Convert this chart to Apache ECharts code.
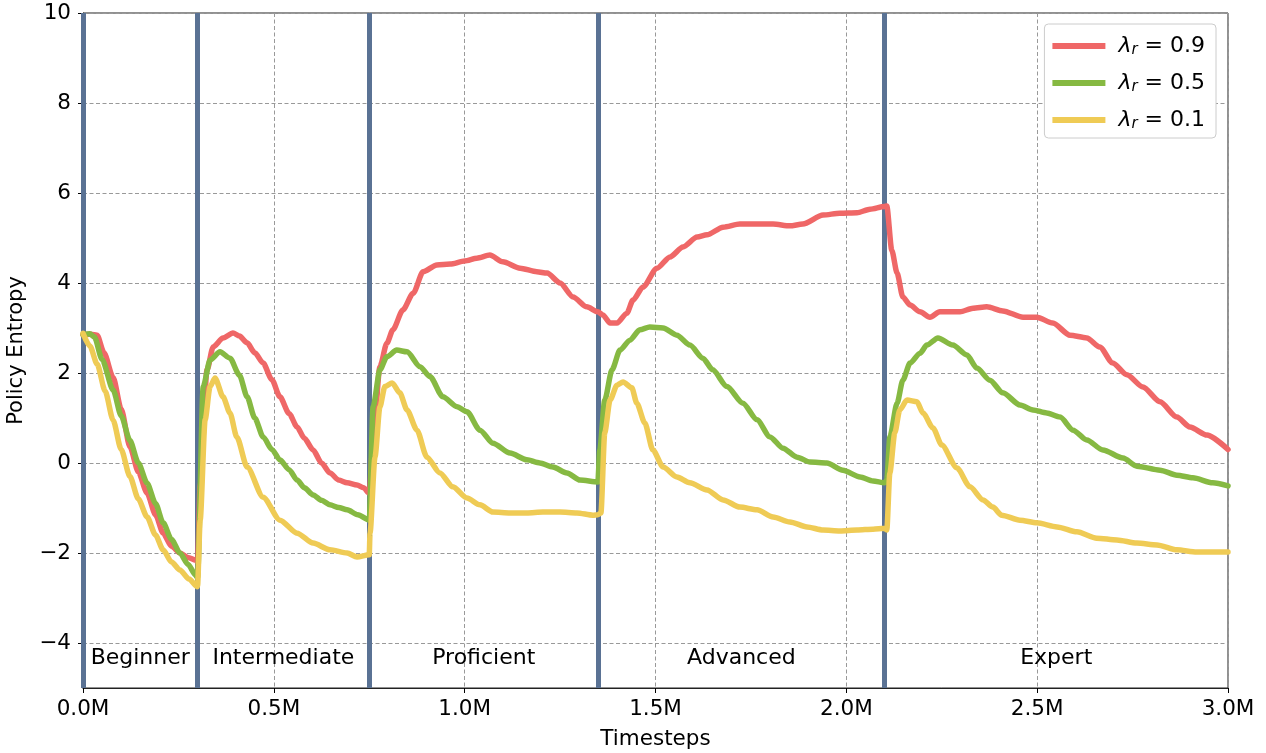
<!DOCTYPE html>
<html>
<head>
<meta charset="utf-8">
<script src="https://cdn.jsdelivr.net/npm/echarts@6/dist/echarts.min.js"></script>
<style>html,body{margin:0;padding:0;background:#fff;}#chart{width:1266px;height:753px;}</style>
</head>
<body>
<div id="chart"></div>
<script>
// ---- data (x in millions of timesteps) ----
const seriesNames = ['λr = 0.9', 'λr = 0.5', 'λr = 0.1'];
const seriesLabels = ['0.9', '0.5', '0.1'];
const seriesColors = ['#ef6767', '#86b942', '#efcb55'];

const redPoints = [
  [0,2.85],[0.02,2.86],[0.037,2.84],[0.055,2.45],[0.079,1.9],[0.1,1.2],[0.123,0.36],[0.145,-0.2],[0.168,-0.67],[0.19,-1.15],[0.21,-1.56],[0.232,-1.85],[0.254,-2.0],[0.275,-2.1],[0.295,-2.16],[0.3,-2.2],
  [0.307,-0.5],[0.325,2.07],[0.341,2.58],[0.367,2.78],[0.393,2.89],[0.41,2.82],[0.43,2.67],[0.45,2.45],[0.472,2.22],[0.495,1.85],[0.516,1.47],[0.54,1.1],[0.561,0.8],[0.58,0.55],[0.603,0.29],[0.625,0.0],[0.647,-0.22],[0.67,-0.38],[0.692,-0.44],[0.718,-0.49],[0.735,-0.55],[0.75,-0.67],
  [0.76,0.51],[0.778,2.14],[0.796,2.66],[0.812,2.96],[0.838,3.4],[0.865,3.77],[0.891,4.25],[0.927,4.4],[0.962,4.42],[1.0,4.49],[1.032,4.55],[1.066,4.62],[1.1,4.47],[1.145,4.33],[1.189,4.25],[1.216,4.22],[1.25,4.0],[1.284,3.69],[1.32,3.47],[1.349,3.36],
  [1.362,3.29],[1.381,3.11],[1.399,3.11],[1.425,3.33],[1.441,3.62],[1.467,3.91],[1.504,4.33],[1.538,4.58],[1.572,4.8],[1.609,5.02],[1.635,5.07],[1.677,5.24],[1.721,5.31],[1.766,5.31],[1.808,5.31],[1.852,5.27],[1.886,5.31],[1.939,5.51],[1.983,5.55],[2.028,5.56],[2.062,5.64],[2.1,5.7],
  [2.106,5.71],[2.119,4.73],[2.133,4.22],[2.148,3.69],[2.167,3.51],[2.193,3.36],[2.219,3.24],[2.245,3.36],[2.298,3.36],[2.332,3.44],[2.368,3.47],[2.41,3.38],[2.463,3.24],[2.499,3.24],[2.541,3.11],[2.586,2.84],[2.63,2.78],[2.664,2.58],[2.698,2.22],[2.735,1.96],[2.777,1.69],[2.822,1.36],[2.866,1.02],[2.9,0.8],[2.945,0.62],[3.0,0.3]
];
const greenPoints = [
  [0,2.85],[0.018,2.87],[0.03,2.8],[0.05,2.3],[0.079,1.62],[0.1,1.05],[0.123,0.5],[0.145,0.0],[0.168,-0.45],[0.19,-0.9],[0.21,-1.33],[0.232,-1.7],[0.254,-2.0],[0.275,-2.25],[0.295,-2.49],[0.3,-2.55],
  [0.315,1.7],[0.333,2.29],[0.359,2.47],[0.385,2.33],[0.41,1.95],[0.43,1.47],[0.45,1.0],[0.472,0.58],[0.495,0.3],[0.516,0.07],[0.54,-0.15],[0.561,-0.38],[0.58,-0.55],[0.603,-0.71],[0.625,-0.83],[0.647,-0.93],[0.67,-0.99],[0.692,-1.04],[0.72,-1.15],[0.75,-1.27],
  [0.76,1.25],[0.778,2.07],[0.796,2.36],[0.822,2.51],[0.849,2.47],[0.883,2.14],[0.909,1.92],[0.943,1.47],[0.98,1.25],[1.006,1.14],[1.04,0.73],[1.074,0.44],[1.119,0.22],[1.163,0.07],[1.197,0.0],[1.231,-0.09],[1.268,-0.22],[1.302,-0.38],[1.349,-0.42],
  [1.354,0.29],[1.367,1.4],[1.386,2.07],[1.407,2.51],[1.433,2.73],[1.459,2.96],[1.485,3.02],[1.52,3.0],[1.556,2.84],[1.59,2.62],[1.624,2.33],[1.65,2.07],[1.687,1.7],[1.729,1.33],[1.766,0.96],[1.8,0.58],[1.834,0.33],[1.871,0.13],[1.905,0.02],[1.949,0.0],[1.991,-0.16],[2.036,-0.31],[2.07,-0.4],[2.1,-0.44],
  [2.106,-0.38],[2.114,0.58],[2.133,1.33],[2.148,1.84],[2.167,2.22],[2.193,2.44],[2.211,2.62],[2.24,2.78],[2.279,2.62],[2.316,2.4],[2.342,2.11],[2.376,1.84],[2.41,1.56],[2.455,1.29],[2.489,1.18],[2.525,1.11],[2.56,1.02],[2.594,0.73],[2.63,0.51],[2.672,0.29],[2.725,0.11],[2.761,-0.07],[2.822,-0.16],[2.866,-0.27],[2.908,-0.33],[2.96,-0.44],[3.0,-0.51]
];
const yellowPoints = [
  [0,2.88],[0.018,2.6],[0.037,2.2],[0.058,1.6],[0.079,0.95],[0.1,0.3],[0.123,-0.3],[0.145,-0.8],[0.168,-1.2],[0.19,-1.6],[0.21,-1.93],[0.232,-2.2],[0.254,-2.38],[0.278,-2.58],[0.3,-2.75],
  [0.307,-1.27],[0.32,0.96],[0.333,1.7],[0.346,1.89],[0.367,1.47],[0.385,1.11],[0.403,0.58],[0.43,-0.09],[0.472,-0.76],[0.516,-1.27],[0.561,-1.56],[0.603,-1.78],[0.647,-1.93],[0.692,-2.0],[0.718,-2.09],[0.75,-2.04],
  [0.752,-1.56],[0.765,0.13],[0.778,1.25],[0.791,1.7],[0.81,1.78],[0.83,1.56],[0.849,1.18],[0.875,0.73],[0.901,0.13],[0.935,-0.22],[0.969,-0.53],[1.006,-0.78],[1.04,-0.93],[1.074,-1.09],[1.119,-1.11],[1.163,-1.11],[1.205,-1.09],[1.25,-1.09],[1.294,-1.11],[1.336,-1.16],[1.349,-1.15],
  [1.357,-1.11],[1.367,0.67],[1.381,1.4],[1.399,1.73],[1.415,1.8],[1.438,1.67],[1.451,1.33],[1.472,0.89],[1.493,0.29],[1.52,-0.09],[1.556,-0.31],[1.59,-0.44],[1.635,-0.6],[1.677,-0.82],[1.721,-0.98],[1.766,-1.04],[1.808,-1.2],[1.852,-1.31],[1.897,-1.42],[1.939,-1.49],[1.983,-1.51],[2.028,-1.49],[2.07,-1.47],[2.1,-1.45],
  [2.106,-1.49],[2.114,-0.22],[2.127,0.67],[2.14,1.18],[2.159,1.4],[2.185,1.36],[2.201,1.11],[2.227,0.78],[2.25,0.4],[2.29,-0.11],[2.324,-0.53],[2.358,-0.82],[2.384,-0.98],[2.407,-1.16],[2.455,-1.27],[2.499,-1.33],[2.552,-1.42],[2.604,-1.53],[2.656,-1.67],[2.709,-1.71],[2.761,-1.78],[2.814,-1.82],[2.866,-1.93],[2.918,-1.98],[3.0,-1.98]
];

const stageBoundaries = [0, 0.3, 0.75, 1.35, 2.1];
const stageNames = ['Beginner', 'Intermediate', 'Proficient', 'Advanced', 'Expert'];
const stageEnds = [0.3, 0.75, 1.35, 2.1, 3.0];
const stageLabelY = -4.35;

const yTicks = [-4, -2, 0, 2, 4, 6, 8, 10];

// ---- chart ----
const FONT = 'DejaVu Sans';
const chart = echarts.init(document.getElementById('chart'), null, {renderer: 'canvas'});
const allPoints = [redPoints, greenPoints, yellowPoints];

const lineSeries = seriesNames.map((name, i) => ({
  name: name,
  type: 'line',
  data: allPoints[i],
  showSymbol: false,
  symbol: 'none',
  smooth: 0.25,
  smoothMonotone: 'x',
  z: 10 + i,
  lineStyle: {color: seriesColors[i], width: 5.5, cap: 'round', join: 'round'},
  itemStyle: {color: seriesColors[i]}
}));

const stageLabelSeries = {
  name: 'stages',
  type: 'scatter',
  symbolSize: 1,
  itemStyle: {opacity: 0},
  silent: true,
  z: 5,
  data: stageNames.map((n, i) => ({name: n, value: [(stageBoundaries[i] + stageEnds[i]) / 2, stageLabelY]})),
  label: {show: true, position: 'inside', formatter: p => p.name, fontFamily: FONT, fontSize: 22, color: '#000', textBorderWidth: 0, opacity: 1}
};

const boundarySeries = {
  name: 'boundaries',
  type: 'line',
  data: [],
  silent: true,
  z: 3,
  markLine: {
    silent: true,
    symbol: ['none', 'none'],
    label: {show: false},
    lineStyle: {color: '#5a7294', width: 5, type: 'solid'},
    data: stageBoundaries.map(b => ({xAxis: b}))
  }
};

chart.setOption({
  animation: false,
  backgroundColor: '#fff',
  grid: {left: 83, right: 38, top: 13, bottom: 65, show: true, borderColor: '#222', borderWidth: 1,
    backgroundColor: 'transparent', containLabel: false, outerBoundsMode: 'none'},
  legend: {
    data: seriesNames,
    right: 50, top: 24,
    orient: 'vertical',
    backgroundColor: '#fff',
    borderColor: '#cccccc',
    borderWidth: 1,
    borderRadius: 4,
    padding: [9, 11, 6, 8],
    itemGap: 12,
    itemWidth: 53,
    itemHeight: 6,
    icon: 'rect',
    formatter: name => {
      const i = seriesNames.indexOf(name);
      return '{l|λ}{s|r}{n| = ' + seriesLabels[i] + '}';
    },
    textStyle: {
      fontFamily: FONT, fontSize: 22, color: '#000',
      rich: {
        l: {fontFamily: FONT, fontStyle: 'italic', fontSize: 22, color: '#000', lineHeight: 24, padding: [0, 0, 0, 8]},
        s: {fontFamily: FONT, fontStyle: 'italic', fontSize: 15, color: '#000', verticalAlign: 'bottom', lineHeight: 24, padding: [10, 0, 0, 0]},
        n: {fontFamily: FONT, fontSize: 22, color: '#000', lineHeight: 24}
      }
    }
  },
  xAxis: {
    type: 'value',
    min: 0, max: 3.0, interval: 0.5,
    name: 'Timesteps',
    nameLocation: 'middle',
    nameGap: 40,
    nameTextStyle: {fontFamily: FONT, fontSize: 21.5, color: '#000'},
    axisLine: {show: true, onZero: false, lineStyle: {color: '#222', width: 1.2}},
    axisTick: {show: true, inside: false, length: 5, lineStyle: {color: '#000'}},
    axisLabel: {fontFamily: FONT, fontSize: 21.5, color: '#000', margin: 10, formatter: v => v.toFixed(1) + 'M'},
    splitLine: {show: true, lineStyle: {color: '#999', width: 1, type: [4, 2.5]}}
  },
  yAxis: {
    type: 'value',
    min: -5, max: 10,
    name: 'Policy Entropy',
    nameLocation: 'middle',
    nameGap: 56,
    nameTextStyle: {fontFamily: FONT, fontSize: 21, color: '#000'},
    axisLine: {show: true, onZero: false, lineStyle: {color: '#222', width: 1.2}},
    axisTick: {show: true, length: 5, lineStyle: {color: '#000'}, customValues: yTicks},
    axisLabel: {fontFamily: FONT, fontSize: 21.5, color: '#000', margin: 12, customValues: yTicks,
      formatter: v => v < 0 ? '\u2212' + Math.abs(v) : String(v)},
    splitLine: {show: true, lineStyle: {color: '#999', width: 1, type: [4, 2.5]}}
  },
  series: [boundarySeries, stageLabelSeries].concat(lineSeries)
});
</script>
</body>
</html>
